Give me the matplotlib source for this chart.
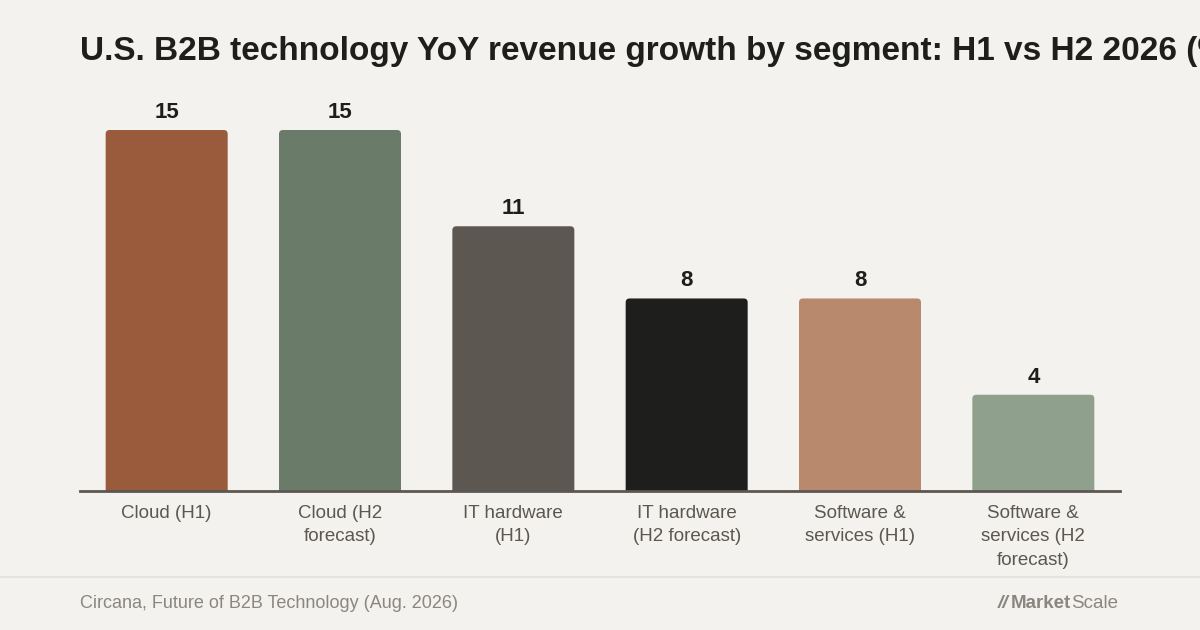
import matplotlib.pyplot as plt
from matplotlib.patches import FancyBboxPatch
from matplotlib.lines import Line2D

# data
categories = ["Cloud (H1)", "Cloud (H2\nforecast)", "IT hardware\n(H1)",
              "IT hardware\n(H2 forecast)", "Software &\nservices (H1)",
              "Software &\nservices (H2\nforecast)"]
growth = [15, 15, 11, 8, 8, 4]
bar_colors = ["#9A5A3C", "#6A7B69", "#5C5750", "#1E1E1C", "#B8896C", "#8FA08C"]

bg = "#F4F2EE"
W, H = 1200, 630

fig = plt.figure(figsize=(12, 6.3), dpi=100, facecolor=bg)
plt.rcParams['font.family'] = ['Liberation Sans', 'DejaVu Sans']

# axes placed in pixel terms: x 80..1120, baseline y=491, top y=110
ax = fig.add_axes([80 / W, (H - 491) / H, 1040 / W, 381 / H])
ax.set_facecolor(bg)
px_per_unit = 361 / 15.0
ax.set_ylim(0, 381 / px_per_unit)
ax.set_xlim(-0.5, len(categories) - 0.5)

bar_w = 122 / (1040 / len(categories))
x_px = 1040 / len(categories)
rad = 4 / x_px
aspect = x_px / px_per_unit
for i, (v, c) in enumerate(zip(growth, bar_colors)):
    patch = FancyBboxPatch((i - bar_w / 2, -1), bar_w, v + 1,
                           boxstyle=f"round,pad=0,rounding_size={rad}",
                           mutation_aspect=aspect, facecolor=c, edgecolor="none")
    ax.add_patch(patch)
    ax.text(i, v + 12 / px_per_unit, str(v), ha="center", va="baseline",
            fontsize=16, fontweight="bold", color="#1E1E1C")

for s in ["top", "right", "left"]:
    ax.spines[s].set_visible(False)
ax.spines["bottom"].set_color("#5C5750")
ax.spines["bottom"].set_linewidth(2)
ax.set_yticks([])
ax.set_xticks(range(len(categories)))
ax.set_xticklabels(categories, fontsize=13.5, color="#5C5750", linespacing=1.5)
ax.tick_params(axis="x", length=0, pad=10)

# title (runs off the right edge as in the source)
fig.text(80 / W, 1 - 60 / H, "U.S. B2B technology YoY revenue growth by segment: H1 vs H2 2026 (%)",
         fontsize=24, fontweight="bold", color="#1E1E1C", va="baseline", ha="left")

# footer
fig.add_artist(Line2D([0, 1], [1 - 577 / H] * 2, color="#E6E3DE", linewidth=1.5))
fig.text(80 / W, 1 - 604 / H, "Circana, Future of B2B Technology (Aug. 2026)",
         fontsize=13, color="#8A8680", va="center", ha="left")

# logo: mark + "Market" bold + "Scale" regular
fig.canvas.draw()
r = fig.canvas.get_renderer()
scale_t = fig.text(1118 / W, 1 - 604 / H, "Scale", fontsize=13.5, color="#8A8680",
                   va="center", ha="right")
sw = scale_t.get_window_extent(r).width
market_t = fig.text((1118 - sw) / W, 1 - 604 / H, "Market", fontsize=13.5,
                    fontweight="bold", color="#8A8680", va="center", ha="right")
mw = market_t.get_window_extent(r).width
fig.text((1118 - sw - mw - 2) / W, 1 - 604 / H, "//", fontsize=14, fontweight="bold",
         color="#8A8680", va="center", ha="right", style="italic")

fig.savefig("out.png", dpi=100, facecolor=bg)
